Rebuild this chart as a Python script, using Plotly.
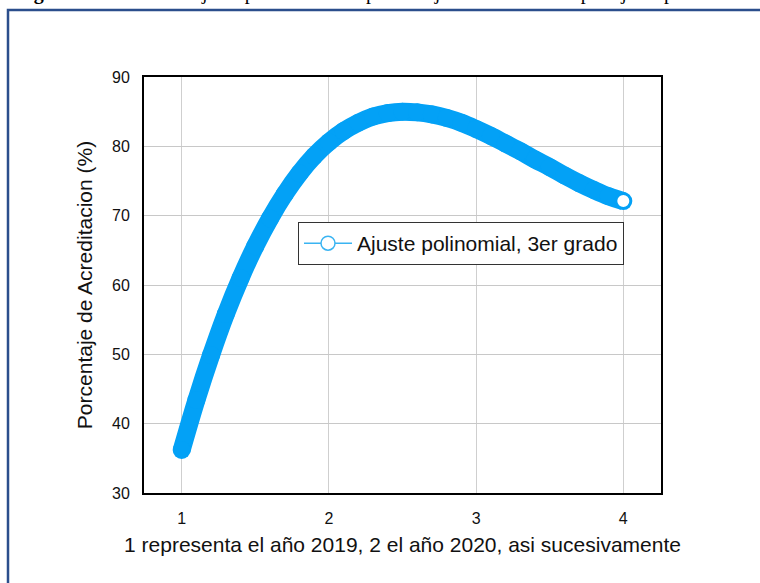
import plotly.graph_objects as go

# ---- data ----
x_vals = [1.0, 1.1, 1.2, 1.3, 1.4, 1.5, 1.6, 1.7, 1.8, 1.9, 2.0,
          2.1, 2.2, 2.3, 2.4, 2.5, 2.6, 2.7, 2.8, 2.9, 3.0,
          3.1, 3.2, 3.3, 3.4, 3.5, 3.6, 3.7, 3.8, 3.9, 4.0]
y_vals = [36.2, 43.4, 49.9, 55.8, 61.0, 65.6, 69.6, 73.1, 76.1, 78.6, 80.6,
          82.2, 83.4, 84.3, 84.8, 85.0, 84.9, 84.6, 84.1, 83.4, 82.5,
          81.5, 80.4, 79.3, 78.1, 77.0, 75.8, 74.7, 73.7, 72.8, 72.1]
x_ticks = [1, 2, 3, 4]
y_ticks = [30, 40, 50, 60, 70, 80, 90]
series_name = "Ajuste polinomial, 3er grado"
x_title = "1 representa el año 2019, 2 el año 2020, asi sucesivamente"
y_title = "Porcentaje de Acreditacion (%)"
caption = "<b>Figura 4.</b> Gráfica del ajuste polinomial del porcentaje de acreditación por ajuste polinomial"

W, H = 760, 583
BLUE = "#03A1F6"
FONT = "Liberation Sans, Arial, sans-serif"

fig = go.Figure()

# thick band
fig.add_trace(go.Scatter(
    x=x_vals, y=y_vals, mode="lines+markers",
    line=dict(color=BLUE, width=18, shape="spline"),
    marker=dict(color=BLUE, size=18, line=dict(width=0)),
    showlegend=False, hoverinfo="skip"))
# last point: open circle
fig.add_trace(go.Scatter(
    x=x_vals[-1:], y=y_vals[-1:], mode="markers",
    marker=dict(color="white", size=14, line=dict(color=BLUE, width=2)),
    showlegend=False, hoverinfo="skip"))
# legend entry
fig.add_trace(go.Scatter(
    x=[None], y=[None], mode="lines+markers", name=series_name,
    line=dict(color="#3AB4F2", width=1.5),
    marker=dict(color="white", size=14, line=dict(color="#3AB4F2", width=1.5))))

px0, px1, py0, py1 = 144, 661, 77, 493
fig.update_layout(
    width=W, height=H,
    margin=dict(l=0, r=0, t=0, b=0),
    paper_bgcolor="white", plot_bgcolor="white",
    font=dict(family=FONT, color="#111111"),
    xaxis=dict(
        domain=[px0 / W, px1 / W], range=[0.744, 4.256],
        tickvals=x_ticks, ticks="outside", ticklen=10, tickcolor="rgba(0,0,0,0)",
        tickfont=dict(size=16), showgrid=True, gridcolor="#cfcfcf", gridwidth=1,
        showline=True, linecolor="black", linewidth=2, mirror=True,
        zeroline=False, automargin=False,
        title=dict(text=x_title, font=dict(size=21), standoff=11)),
    yaxis=dict(
        domain=[1 - py1 / H, 1 - py0 / H], range=[30, 90],
        tickvals=y_ticks, ticks="outside", ticklen=9, tickcolor="rgba(0,0,0,0)",
        tickfont=dict(size=16), showgrid=True, gridcolor="#c8c8c8", gridwidth=1,
        showline=True, linecolor="black", linewidth=2, mirror=True,
        zeroline=False, automargin=False,
        title=dict(text=y_title, font=dict(size=21), standoff=14)),
    legend=dict(
        x=298 / W, y=1 - 222 / H, xanchor="left", yanchor="top",
        bgcolor="white", bordercolor="#333333", borderwidth=1,
        font=dict(size=21, family=FONT, color="#111111"),
        itemwidth=48, tracegroupgap=0),
    shapes=[dict(type="rect", xref="paper", yref="paper",
                 x0=8 / W, x1=1.02, y0=-0.02, y1=1 - 10 / H,
                 line=dict(color="#2B4E8C", width=2.5), fillcolor="rgba(0,0,0,0)",
                 layer="below")],
    annotations=[dict(text=caption, xref="paper", yref="paper",
                      x=14 / W, y=1 - 6 / H, xanchor="left", yanchor="bottom",
                      showarrow=False, align="left",
                      font=dict(family="Liberation Serif, Times New Roman, serif",
                                size=20, color="black"))],
)

fig.write_html("out.html",
               config={"displayModeBar": False},
               post_script="document.body.style.margin='0';document.body.style.overflow='hidden';")
